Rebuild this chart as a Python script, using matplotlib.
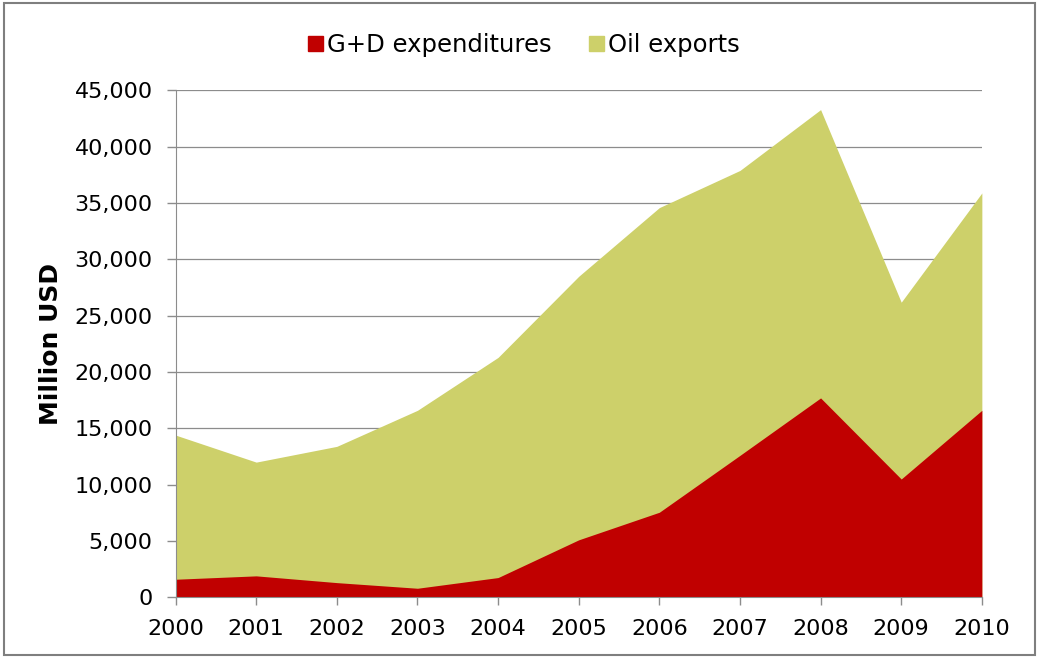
import matplotlib.pyplot as plt
from matplotlib.patches import Rectangle
from matplotlib.lines import Line2D

years = [2000, 2001, 2002, 2003, 2004, 2005, 2006, 2007, 2008, 2009, 2010]
oil_exports = [14400, 12000, 13400, 16600, 21300, 28500, 34600, 37900, 43300, 26200, 35900]
gd_expenditures = [1600, 1900, 1300, 800, 1750, 5100, 7550, 12600, 17700, 10500, 16600]

red = "#C00000"
green = "#CDD06A"
grey = "#8C8C8C"

plt.rcParams["font.family"] = "DejaVu Sans"

fig = plt.figure(figsize=(10.39, 6.58), dpi=100)
ax = fig.add_axes([0.169, 0.0923, 0.776, 0.7702])

ax.fill_between(years, oil_exports, 0, color=green, linewidth=0, zorder=2)
ax.fill_between(years, gd_expenditures, 0, color=red, linewidth=0, zorder=3)

ax.set_xlim(2000, 2010)
ax.set_ylim(0, 45000)
ax.set_xticks(years)
ax.set_yticks(range(0, 45001, 5000))
ax.set_yticklabels([f"{v:,}" for v in range(0, 45001, 5000)])
ax.tick_params(axis="both", labelsize=16, colors=grey, labelcolor="black", width=1)
ax.tick_params(axis="y", length=6.5, pad=10)
ax.tick_params(axis="x", length=6, pad=10)

ax.grid(axis="y", color=grey, linewidth=0.9, zorder=1)
ax.set_axisbelow(True)
for side in ["top", "right"]:
    ax.spines[side].set_visible(False)
for side in ["left", "bottom"]:
    ax.spines[side].set_color(grey)
    ax.spines[side].set_zorder(4)

ax.set_ylabel("Million USD", fontsize=18, fontweight="bold", labelpad=8)

handles = [
    Line2D([], [], marker="s", linestyle="none", color=red, markersize=10.8),
    Line2D([], [], marker="s", linestyle="none", color=green, markersize=10.8),
]
fig.legend(handles, ["G+D expenditures", "Oil exports"], loc="center",
           bbox_to_anchor=(0.504, 0.932), ncol=2, frameon=False, fontsize=17.5,
           handletextpad=0.2, columnspacing=1.5, handlelength=0.62)

# outer chart frame
fig.patches.append(Rectangle((0.004, 0.005), 0.992, 0.99, transform=fig.transFigure,
                             fill=False, edgecolor="#7F7F7F", linewidth=1.5))

fig.savefig("out.png", dpi=100)
